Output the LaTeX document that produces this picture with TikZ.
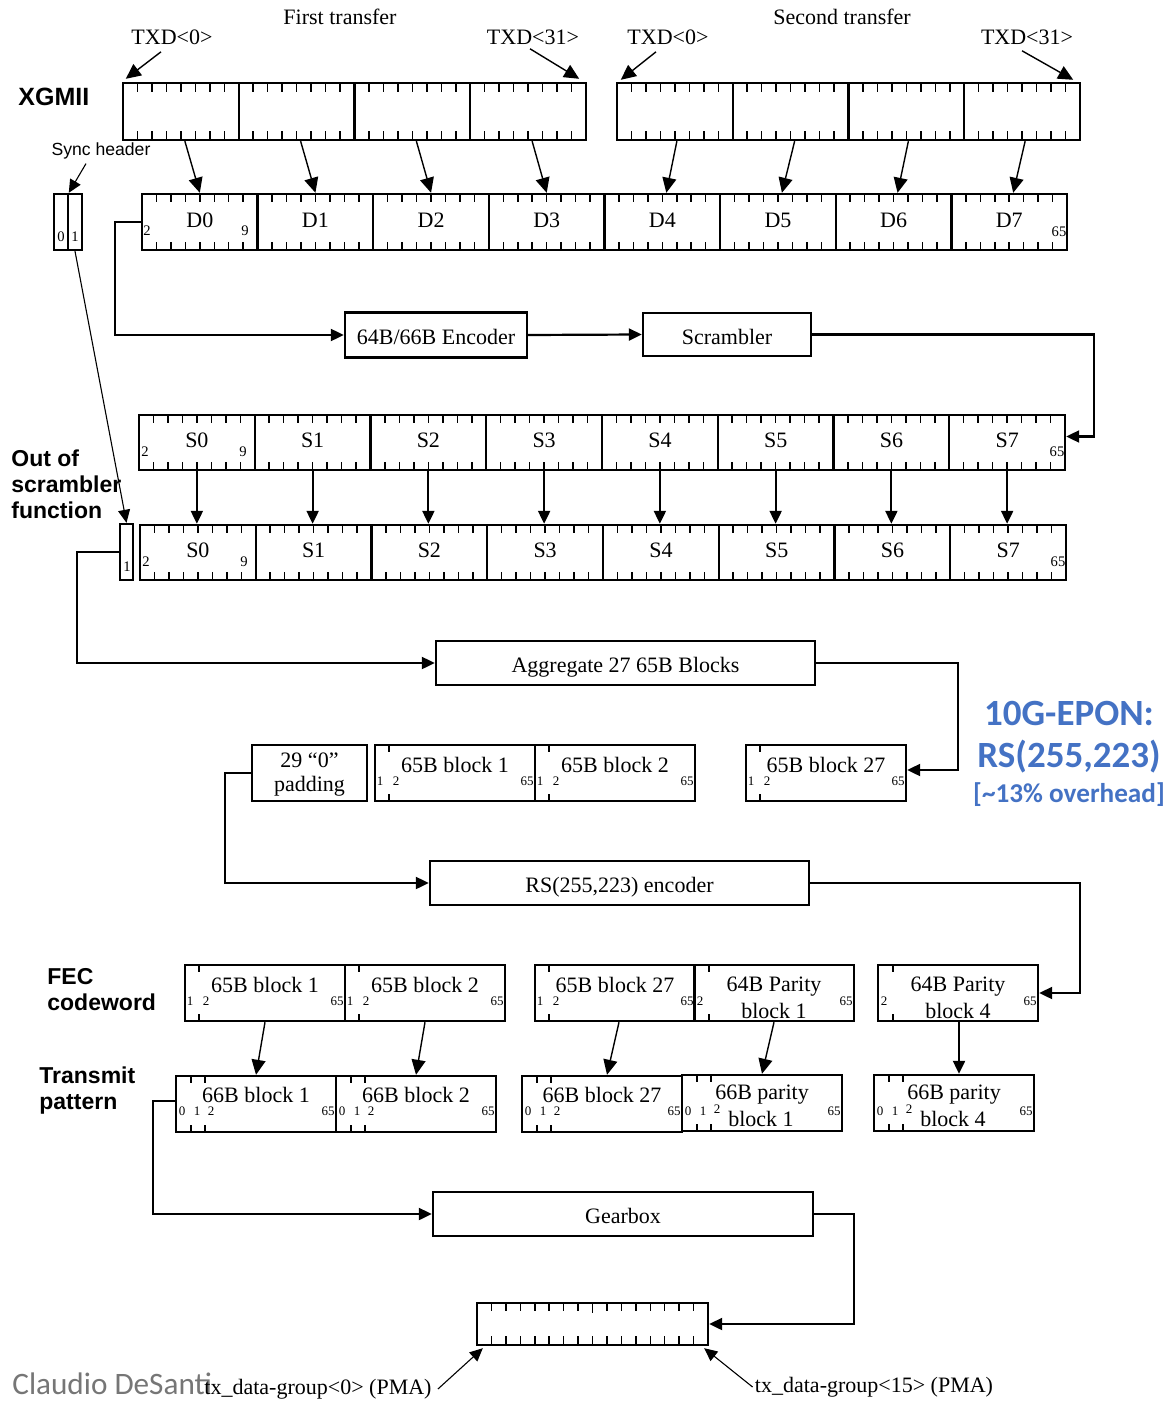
\documentclass[tikz,border=0pt]{standalone}
\usepackage{fontspec}
\setmainfont{Liberation Serif}
\newfontfamily\arialf{Liberation Sans}
\newfontfamily\calib{Carlito}
\usetikzlibrary{arrows.meta}
\definecolor{epon}{RGB}{68,114,196}
\definecolor{credit}{RGB}{118,118,118}
\tikzset{
 seg/.style={draw, line width=1.2pt, inner sep=0pt},
 tick/.style={line width=0.75pt},
 txt/.style={inner sep=0pt, font=\fontsize{11}{13}\selectfont},
 num/.style={inner sep=0pt, font=\fontsize{7.3}{8}\selectfont},
 snum/.style={inner sep=0pt, font=\fontsize{6.5}{7}\selectfont},
 arr/.style={line width=1.1pt, -{Triangle[length=6.5pt,width=6pt]}},
 darr/.style={line width=0.7pt, -{Triangle[length=7.5pt,width=7pt]}},
 thinarr/.style={line width=0.55pt, -{Triangle[length=6.5pt,width=6pt]}},
 sideb/.style={inner sep=0pt, font=\arialf\bfseries\fontsize{11.5}{13}\selectfont, align=left},
 procbox/.style={draw, line width=1.2pt, inner sep=0pt, minimum height=22pt, text height=9.5pt, text depth=0pt, font=\fontsize{11}{13}\selectfont},
}
% 65B block: name, left, top, title
\newcommand{\bsf}[4]{%
  \node[seg, minimum width=80pt, minimum height=28pt] (#1) at ({#2+80},{#3+28}) {};
  \draw[tick] ({#2+14},#3) -- ++(0,7);
  \draw[tick] ({#2+14},{#3+56}) -- ++(0,-7);
  \node[snum] (#1-a) at ({#2+5},{#3+36}) {1};
  \node[snum] (#1-b) at ({#2+21},{#3+36}) {2};
  \node[snum, anchor=east] (#1-c) at ({#2+159},{#3+36}) {65};
  \node[txt] (#1-t) at ({#2+80},{#3+20}) {#4};
}
% 66B block
\newcommand{\bss}[4]{%
  \node[seg, minimum width=80pt, minimum height=28pt] (#1) at ({#2+80},{#3+28}) {};
  \draw[tick] ({#2+15},#3) -- ++(0,7);
  \draw[tick] ({#2+29},#3) -- ++(0,7);
  \draw[tick] ({#2+15},{#3+56}) -- ++(0,-7);
  \draw[tick] ({#2+29},{#3+56}) -- ++(0,-7);
  \node[snum] (#1-a) at ({#2+6},{#3+35}) {0};
  \node[snum] (#1-b) at ({#2+21},{#3+35}) {1};
  \node[snum] (#1-c) at ({#2+35},{#3+35}) {2};
  \node[snum, anchor=east] (#1-d) at ({#2+159},{#3+35}) {65};
  \node[txt] (#1-t) at ({#2+80},{#3+19}) {#4};
}
% 66B parity block
\newcommand{\bsp}[4]{%
  \node[seg, minimum width=80pt, minimum height=28pt] (#1) at ({#2+80},{#3+28}) {};
  \draw[tick] ({#2+15},#3) -- ++(0,7);
  \draw[tick] ({#2+29},#3) -- ++(0,7);
  \draw[tick] ({#2+15},{#3+56}) -- ++(0,-7);
  \draw[tick] ({#2+29},{#3+56}) -- ++(0,-7);
  \node[snum] (#1-a) at ({#2+6},{#3+36}) {0};
  \node[snum] (#1-b) at ({#2+21},{#3+36}) {1};
  \node[snum] (#1-c) at ({#2+35},{#3+34}) {2};
  \node[snum, anchor=east] (#1-d) at ({#2+159},{#3+36}) {65};
  \node[txt] (#1-t) at ({#2+80},{#3+20}) {66B parity};
  \node[txt] (#1-u) at ({#2+79},{#3+44}) {block #4};
}
% 64B parity block
\newcommand{\bpf}[4]{%
  \node[seg, minimum width=80pt, minimum height=28pt] (#1) at ({#2+80},{#3+28}) {};
  \draw[tick] ({#2+15},#3) -- ++(0,7);
  \draw[tick] ({#2+15},{#3+56}) -- ++(0,-7);
  \node[snum] (#1-a) at ({#2+6},{#3+36}) {2};
  \node[snum, anchor=east] (#1-c) at ({#2+159},{#3+36}) {65};
  \node[txt] (#1-t) at ({#2+80},{#3+22}) {64B Parity};
  \node[txt] (#1-u) at ({#2+80},{#3+46}) {block #4};
}
\begin{document}
\begin{tikzpicture}[x=0.5pt,y=-0.5pt]
\useasboundingbox (0,0) rectangle (1168,1401);

% ---------- titles ----------
\node[txt] (ft) at (340,17) {First transfer};
\node[txt] (st) at (842,17) {Second transfer};
\node[txt] (Ta) at (172,37) {TXD<0>};
\node[txt] (Tb) at (533,37) {TXD<31>};
\node[txt] (Tc) at (668,37) {TXD<0>};
\node[txt] (Td) at (1027,37) {TXD<31>};

% ---------- XGMII ----------
\node[sideb, anchor=west, font=\arialf\bfseries\fontsize{12.5}{14}\selectfont] (xg) at (18,97) {XGMII};
\foreach \b/\L in {a/123, b/617} {
  \foreach \i in {0,...,3} {
    \pgfmathsetmacro{\cx}{\L+115.75*(\i+0.5)}
    \node[seg, minimum width=57.875pt, minimum height=28.5pt] (X\b\i) at (\cx,111.5) {};
    \foreach \j in {1,...,7} {
      \pgfmathsetmacro{\tx}{\L+115.75*\i+14.46875*\j}
      \draw[tick] (\tx,83) -- ++(0,9);
      \draw[tick] (\tx,140) -- ++(0,-9);
    }
  }
}
\draw[darr] ([xshift=-5.5pt,yshift=-3.5pt]Ta.south) -- ([xshift=2pt,yshift=1.5pt]Xa0.north west);
\draw[darr] ([xshift=-1.5pt,yshift=-2pt]Tb.south) -- ([xshift=-4pt,yshift=1.5pt]Xa3.north east);
\draw[darr] ([xshift=-6pt,yshift=-3.5pt]Tc.south) -- ([xshift=2.5pt,yshift=1pt]Xb0.north west);
\draw[darr] ([xshift=-2.5pt,yshift=-3pt]Td.south) -- ([xshift=-4pt,yshift=1pt]Xb3.north east);

% ---------- D row ----------
\foreach \i in {0,...,7} {
  \pgfmathsetmacro{\cx}{142+115.625*(\i+0.5)}
  \node[seg, minimum width=57.8125pt, minimum height=28pt] (D\i) at (\cx,222) {};
  \node[txt] (D\i-t) at (\cx,220) {D\i};
  \foreach \j in {1,...,7} {
    \pgfmathsetmacro{\tx}{142+115.625*\i+14.453*\j}
    \draw[tick] (\tx,194) -- ++(0,8);
    \draw[tick] (\tx,250) -- ++(0,-8);
  }
}
\node[num] (Dn2) at (147,231) {2};
\node[num] (Dn9) at (245,231) {9};
\node[num] (Dn65) at (1059,232) {65};
\foreach \i in {0,...,3} {
  \draw[darr] ([xshift=2pt]Xa\i.south) -- (D\i.north);
}
\draw[darr] ([xshift=1pt]Xb0.south) -- ([xshift=2pt]D4.north);
\draw[darr] ([xshift=2pt]Xb1.south) -- ([xshift=2pt]D5.north);
\draw[darr] ([xshift=1pt]Xb2.south) -- ([xshift=2pt]D6.north);
\draw[darr] ([xshift=1.5pt]Xb3.south) -- ([xshift=2pt]D7.north);

% ---------- sync header ----------
\node[inner sep=0pt, font=\arialf\fontsize{8.8}{10}\selectfont] (synclbl) at (101,151) {Sync header};
\node[seg, minimum width=7pt, minimum height=28pt] (sh0) at (61,222) {};
\node[seg, minimum width=7pt, minimum height=28pt] (sh1) at (75,222) {};
\node[num] (sh0n) at (61,237) {0};
\node[num] (sh1n) at (75,237) {1};
\draw[thinarr] ([xshift=-7.5pt,yshift=-2pt]synclbl.south) -- ([xshift=1pt]sh1.north west);

% ---------- encoder / scrambler ----------
\node[procbox, minimum width=91pt, minimum height=22.5pt] (enc) at (436,335) {64B/66B Encoder};
\node[procbox, minimum width=84pt, minimum height=21.5pt] (scr) at (727,334.5) {Scrambler};
\draw[arr] (D0.west) -- ++(-26,0) |- (enc.west);
\draw[arr] (enc.east) -- (scr.west);

% ---------- S rows ----------
\foreach \i in {0,...,7} {
  \pgfmathsetmacro{\cx}{139+115.75*(\i+0.5)}
  \node[seg, minimum width=57.875pt, minimum height=27.5pt] (Su\i) at (\cx,442.5) {};
  \node[txt] (Su\i-t) at (\cx,440) {S\i};
  \foreach \j in {1,...,7} {
    \pgfmathsetmacro{\tx}{139+115.75*\i+14.469*\j}
    \draw[tick] (\tx,415) -- ++(0,8);
    \draw[tick] (\tx,470) -- ++(0,-8);
  }
  \pgfmathsetmacro{\dx}{140+115.75*(\i+0.5)}
  \node[seg, minimum width=57.875pt, minimum height=27.5pt] (Sl\i) at (\dx,552.5) {};
  \node[txt] (Sl\i-t) at (\dx,550) {S\i};
  \foreach \j in {1,...,7} {
    \pgfmathsetmacro{\tx}{140+115.75*\i+14.469*\j}
    \draw[tick] (\tx,525) -- ++(0,8);
    \draw[tick] (\tx,580) -- ++(0,-8);
  }
  \draw[arr] (Su\i.south) -- (Su\i.south |- Sl\i.north);
}
\node[num] (Sun2) at (145,452) {2};
\node[num] (Sun9) at (243,452) {9};
\node[num] (Sun65) at (1057,452) {65};
\node[num] (Sln2) at (146,562) {2};
\node[num] (Sln9) at (244,562) {9};
\node[num] (Sln65) at (1058,562) {65};
\draw[arr] (scr.east) -- ++(282,0) |- ([yshift=3pt]Su7.east);

\node[sideb, anchor=west] (oos) at (11,484) {Out of\\scrambler\\function};
\node[seg, minimum width=6.5pt, minimum height=28pt] (lone) at (126.5,552) {};
\node[num] (lonen) at (127,567) {1};
\draw[thinarr] (sh1.south) -- (lone.north);

% ---------- aggregate ----------
\node[procbox, minimum width=189.5pt] (agg) at (625.5,663) {Aggregate 27 65B Blocks};
\draw[arr] (lone.west) -- ++(-42,0) |- (agg.west);

\node[seg, minimum width=57.5pt, minimum height=28pt] (pad) at (309.5,773) {};
\node[txt] (pad-t) at (309.5,760) {29 “0”};
\node[txt] (pad-u) at (309.5,786) {padding};
\bsf{b1}{375}{745}{65B block 1}
\bsf{b2}{535}{745}{65B block 2}
\bsf{b27}{746}{745}{65B block 27}
\draw[arr] (agg.east) -- ++(142,0) |- ([yshift=1.5pt]b27.east);

% ---------- blue note ----------
\node[inner sep=0pt, text=epon, font=\calib\bfseries\fontsize{18.5}{20}\selectfont] (ep1) at (1069,713) {10G-EPON:};
\node[inner sep=0pt, text=epon, font=\calib\bfseries\fontsize{18.5}{20}\selectfont] (ep2) at (1069,757) {RS(255,223)};
\node[inner sep=0pt, text=epon, font=\calib\bfseries\fontsize{13.6}{15}\selectfont] (ep3) at (1069,795) {[\textasciitilde13\% overhead]};

% ---------- RS encoder ----------
\node[procbox, minimum width=189.5pt] (rs) at (619.5,883) {RS(255,223) encoder};
\draw[arr] (pad.west) -- ++(-26,0) |- (rs.west);

% ---------- FEC codeword ----------
\node[sideb, anchor=west] (fec) at (47,989.5) {FEC\\codeword};
\bsf{f1}{185}{965}{65B block 1}
\bsf{f2}{345}{965}{65B block 2}
\bsf{f27}{535}{965}{65B block 27}
\bpf{p1}{694}{965}{1}
\bpf{p4}{878}{965}{4}
\draw[arr] (rs.east) -- ++(270,0) |- (p4.east);

% ---------- transmit pattern ----------
\node[sideb, anchor=west] (tpat) at (39,1091) {Transmit\\pattern};
\bss{t1}{176}{1076}{66B block 1}
\bss{t2}{336}{1076}{66B block 2}
\bss{t27}{522}{1076}{66B block 27}
\bsp{tp1}{682}{1075}{1}
\bsp{tp4}{874}{1075}{4}
\draw[darr] (f1.south) -- (t1.north);
\draw[darr] (f2.south) -- (t2.north);
\draw[darr] ([xshift=2pt]f27.south) -- ([xshift=2.5pt]t27.north);
\draw[darr] (p1.south) -- (tp1.north);
\draw[arr] ([xshift=0.5pt]p4.south) -- ([xshift=0.5pt]p4.south |- tp4.north);

% ---------- gearbox ----------
\node[procbox, minimum width=190pt] (gb) at (623,1214) {Gearbox};
\draw[arr] ([yshift=1.5pt]t1.west) -- ++(-22,0) |- (gb.west);

\node[seg, minimum width=115.5pt, minimum height=21pt] (pma) at (592.5,1324) {};
\foreach \j in {1,...,15} {
  \pgfmathsetmacro{\tx}{477+14.4375*\j}
  \draw[tick] (\tx,1303) -- ++(0,8);
  \draw[tick] (\tx,1345) -- ++(0,-9);
}
\draw[tick] (592.5,1311) -- ++(0,2);
\draw[arr] (gb.east) -- ++(40,0) |- (pma.east);

\node[inner sep=0pt, anchor=west, text=credit, font=\calib\fontsize{15.6}{17}\selectfont] (cred) at (12,1384) {Claudio DeSanti};
\node[txt] (pmal) at (318,1389) {tx\_data-group<0> (PMA)};
\node[txt] (pmar) at (874,1387) {tx\_data-group<15> (PMA)};
\draw[thinarr] ([xshift=3pt]pmal.east) -- ([xshift=3.5pt,yshift=-1pt]pma.south west);
\draw[thinarr] ([xshift=-1pt]pmar.west) -- ([xshift=-2.5pt,yshift=-1pt]pma.south east);
\end{tikzpicture}
\end{document}
